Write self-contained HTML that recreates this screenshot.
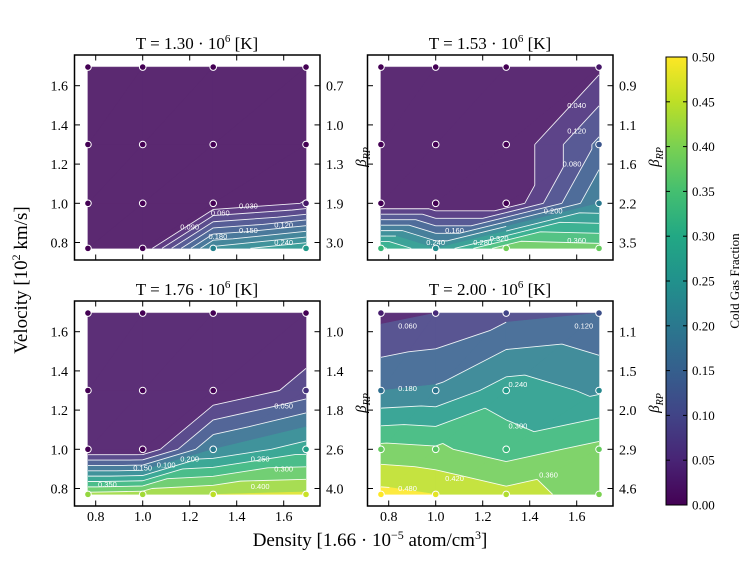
<!DOCTYPE html>
<html><head><meta charset="utf-8">
<style>
html,body{margin:0;padding:0;background:#fff;}
svg{display:block;font-family:"Liberation Serif",serif;}
</style></head>
<body>
<svg id="fig" width="747" height="561" viewBox="0 0 747 561" xmlns="http://www.w3.org/2000/svg">
<defs>
<linearGradient id="vir" x1="0" y1="1" x2="0" y2="0">
<stop offset="0" stop-color="#440154"/><stop offset="0.1" stop-color="#482475"/><stop offset="0.2" stop-color="#414487"/><stop offset="0.3" stop-color="#355f8d"/><stop offset="0.4" stop-color="#2a788e"/><stop offset="0.5" stop-color="#21918c"/><stop offset="0.6" stop-color="#22a884"/><stop offset="0.7" stop-color="#44bf70"/><stop offset="0.8" stop-color="#7ad151"/><stop offset="0.9" stop-color="#bddf26"/><stop offset="1" stop-color="#fde725"/>
</linearGradient>
</defs>
<g id="panels"></g>
<text transform="translate(27,280) rotate(-90)" text-anchor="middle" font-size="19">Velocity [10<tspan font-size="12" dy="-7">2</tspan><tspan dy="7"> km/s]</tspan></text>
<text x="370" y="546" text-anchor="middle" font-size="19">Density [1.66 · 10<tspan font-size="12" dy="-7">−5</tspan><tspan dy="7"> atom/cm</tspan><tspan font-size="12" dy="-7">3</tspan><tspan dy="7">]</tspan></text>
<g>
<rect x="666" y="57" width="21" height="448" fill="url(#vir)" stroke="#000" stroke-width="1"/>
<g id="cbticks"></g>
<text transform="translate(739,281) rotate(-90)" text-anchor="middle" font-size="13">Cold Gas Fraction</text>
</g>
</svg>
<script>
const xData=[0.767,1.0,1.3,1.695];
const yData=[0.77,1.0,1.3,1.695];
const titles=["1.30","1.53","1.76","2.00"];
// grids: rows = yData index, cols = xData index
const z1=[[0,0,0.22,0.27],[0,0,0,0.032],[0,0,0,0],[0,0,0,0]];
const z2=[[0.33,0.24,0.39,0.38],[0,0,0,0.2],[0,0,0,0.13],[0,0,0,0.03]];
const z3=[[0.42,0.43,0.45,0.46],[0,0,0.2,0.28],[0,0,0,0.07],[0,0,0,0]];
const z4=[[0.5,0.48,0.44,0.4],[0.38,0.37,0.33,0.38],[0.18,0.19,0.27,0.23],[0.04,0.06,0.1,0.12]];
const grids=[z1,z2,z3,z4];
const steps=[0.03,0.04,0.05,0.06];
const betas1=["0.7","1.0","1.3","1.9","3.0"];
const betas2=["0.9","1.1","1.6","2.2","3.5"];
const betas3=["1.0","1.4","1.8","2.6","4.0"];
const betas4=["1.1","1.5","2.0","2.9","4.6"];
const betas=[betas1,betas2,betas3,betas4];
const yTicks=[1.6,1.4,1.2,1.0,0.8];
const yTickLabels=["1.6","1.4","1.2","1.0","0.8"];
const xTicks=[0.8,1.0,1.2,1.4,1.6];
const xTickLabels=["0.8","1.0","1.2","1.4","1.6"];
const cbTicks=[0,0.05,0.1,0.15,0.2,0.25,0.3,0.35,0.4,0.45,0.5];
const labels1=[[1.45,0.985,"0.030"],[1.33,0.95,"0.060"],[1.2,0.88,"0.090"],[1.6,0.89,"0.120"],[1.45,0.86,"0.150"],[1.32,0.83,"0.180"],[1.6,0.8,"0.240"]];
const labels2=[[1.6,1.5,"0.040"],[1.58,1.2,"0.080"],[1.6,1.37,"0.120"],[1.08,0.86,"0.160"],[1.5,0.96,"0.200"],[1.0,0.8,"0.240"],[1.2,0.8,"0.280"],[1.27,0.82,"0.320"],[1.6,0.81,"0.360"]];
const labels3=[[1.6,1.22,"0.050"],[1.1,0.92,"0.100"],[1.0,0.905,"0.150"],[1.2,0.95,"0.200"],[1.5,0.95,"0.250"],[1.6,0.9,"0.300"],[0.85,0.82,"0.350"],[1.5,0.81,"0.400"]];
const labels4=[[0.88,1.63,"0.060"],[1.63,1.63,"0.120"],[0.88,1.31,"0.180"],[1.35,1.33,"0.240"],[1.35,1.12,"0.300"],[1.48,0.87,"0.360"],[1.08,0.85,"0.420"],[0.88,0.8,"0.480"]];
const labelSets=[labels1,labels2,labels3,labels4];

const VIR=["#440154","#482475","#414487","#355f8d","#2a788e","#21918c","#22a884","#44bf70","#7ad151","#bddf26","#fde725"];
function hex(c){return [parseInt(c.slice(1,3),16),parseInt(c.slice(3,5),16),parseInt(c.slice(5,7),16)];}
function vrgb(t){t=Math.max(0,Math.min(1,t));const p=t*10,i=Math.min(9,Math.floor(p)),f=p-i;const a=hex(VIR[i]),b=hex(VIR[i+1]);return a.map((v,k)=>v+(b[k]-v)*f);}
function viridis(t){return "rgb("+vrgb(t).map(Math.round).join(",")+")";}
function viridisA(t,al){return "rgb("+vrgb(t).map(v=>Math.round(v*al+255*(1-al))).join(",")+")";}
const NS="http://www.w3.org/2000/svg";
function mk(tag,attrs,parent){const e=document.createElementNS(NS,tag);for(const k in attrs)e.setAttribute(k,attrs[k]);parent.appendChild(e);return e;}
const offs=[[0,0],[293,0],[0,246],[293,246]];
const root=document.getElementById("panels");
function clip(poly,lvl,keepAbove){const out=[];for(let i=0;i<poly.length;i++){const a=poly[i],b=poly[(i+1)%poly.length];const ina=keepAbove?a.z>=lvl:a.z<=lvl,inb=keepAbove?b.z>=lvl:b.z<=lvl;if(ina)out.push(a);if(ina!==inb){const t=(lvl-a.z)/(b.z-a.z);out.push({x:a.x+(b.x-a.x)*t,y:a.y+(b.y-a.y)*t,z:lvl});}}return out;}
grids.forEach((Z,p)=>{
  const dx=offs[p][0],dy=offs[p][1];
  const sx=v=>142.7+(v-1)*235+dx, sy=v=>203.3-(v-1)*196+dy;
  const g=mk("g",{},root);
  
  
  const step=steps[p];const levels=[];for(let l=0;l<=0.55+1e-9;l+=step)levels.push(+l.toFixed(4));
  const tris=[];
  for(let j=0;j<3;j++)for(let i=0;i<3;i++){
    const P=(a,b)=>({x:sx(xData[a]),y:sy(yData[b]),z:Z[b][a]});
    tris.push([P(i,j),P(i+1,j),P(i+1,j+1)]);tris.push([P(i,j),P(i+1,j+1),P(i,j+1)]);
  }
  const fills=mk("g",{},g);
  
  
  for(let k=0;k<levels.length-1;k++){
    const lo=levels[k],hi=levels[k+1];const col=viridisA((lo+hi)/2/0.5,0.88);let d="";
    tris.forEach(t=>{let q=clip(t,k===0?-1:lo,true);if(q.length<3)return;q=clip(q,hi,false);if(q.length<3)return;d+="M"+q.map(v=>v.x.toFixed(2)+","+v.y.toFixed(2)).join("L")+"Z";});
    if(d){const e=mk("path",{d:d,fill:col,stroke:col,"stroke-width":"0.6","stroke-linejoin":"round"},fills);
      
      }
  }
  let ld="";
  levels.slice(1).forEach(l=>{tris.forEach(t=>{const pts=[];for(let i=0;i<3;i++){const a=t[i],b=t[(i+1)%3];if((a.z-l)*(b.z-l)<0){const s=(l-a.z)/(b.z-a.z);pts.push([a.x+(b.x-a.x)*s,a.y+(b.y-a.y)*s]);}}if(pts.length===2)ld+="M"+pts[0][0].toFixed(2)+","+pts[0][1].toFixed(2)+"L"+pts[1][0].toFixed(2)+","+pts[1][1].toFixed(2);});});
  const lines=mk("path",{d:ld,stroke:"#fff","stroke-width":"0.9",fill:"none","stroke-opacity":"0.9"},g);
  
  
  labelSets[p].forEach(L=>{const t=mk("text",{x:sx(L[0]),y:sy(L[1])+2.5,"text-anchor":"middle","font-size":"7.5",fill:"#fff","font-family":"Liberation Sans, sans-serif"},g);t.textContent=L[2];
    
    });
  for(let j=0;j<4;j++)for(let i=0;i<4;i++){const c=mk("circle",{cx:sx(xData[i]),cy:sy(yData[j]),r:3.3,fill:viridis(Z[j][i]/0.5),stroke:"#fff","stroke-width":"1"},g);
    
    }
  const fr=mk("rect",{x:74.5+dx,y:55+dy,width:245.5,height:205,fill:"none",stroke:"#000","stroke-width":"1.5"},g);
  
  
  yTicks.forEach((v,k)=>{const y=sy(v);
    mk("line",{x1:74.5+dx,x2:80+dx,y1:y,y2:y,stroke:"#000","stroke-width":"1"},g);
    mk("line",{x1:320+dx,x2:314.5+dx,y1:y,y2:y,stroke:"#000","stroke-width":"1"},g);
    if(p%2===0){const t=mk("text",{x:68+dx,y:y+5,"text-anchor":"end","font-size":"14"},g);t.textContent=yTickLabels[k];
      
      }
    const b=mk("text",{x:326+dx,y:y+5,"font-size":"14"},g);b.textContent=betas[p][k];
    
    });
  xTicks.forEach((v,k)=>{const x=sx(v);
    mk("line",{x1:x,x2:x,y1:260+dy,y2:254.5+dy,stroke:"#000","stroke-width":"1"},g);
    mk("line",{x1:x,x2:x,y1:55+dy,y2:60.5+dy,stroke:"#000","stroke-width":"1"},g);
    if(p>=2){const t=mk("text",{x:x,y:521,"text-anchor":"middle","font-size":"14"},g);t.textContent=xTickLabels[k];
      
      }});
  const ti=mk("text",{x:197+dx,y:49+dy,"text-anchor":"middle","font-size":"17"},g);
  ti.innerHTML="T = "+titles[p]+" · 10<tspan font-size='11' dy='-7'>6</tspan><tspan dy='7'> [K]</tspan>";
  
  
  const bl=mk("text",{transform:"translate("+(366+dx)+","+(157+dy)+") rotate(-90)","text-anchor":"middle","font-size":"15","font-style":"italic"},g);
  bl.innerHTML="β<tspan font-size='10' dy='4'>RP</tspan>";
  
  
});
const cb=document.getElementById("cbticks");
cbTicks.forEach(v=>{const y=505-v/0.5*448;
  mk("line",{x1:666,x2:670,y1:y,y2:y,stroke:"#000","stroke-width":"1"},cb);
  mk("line",{x1:687,x2:683,y1:y,y2:y,stroke:"#000","stroke-width":"1"},cb);
  const t=mk("text",{x:692,y:y+4.5,"font-size":"13"},cb);t.textContent=v.toFixed(2);
  
  });
</script>
</body></html>
